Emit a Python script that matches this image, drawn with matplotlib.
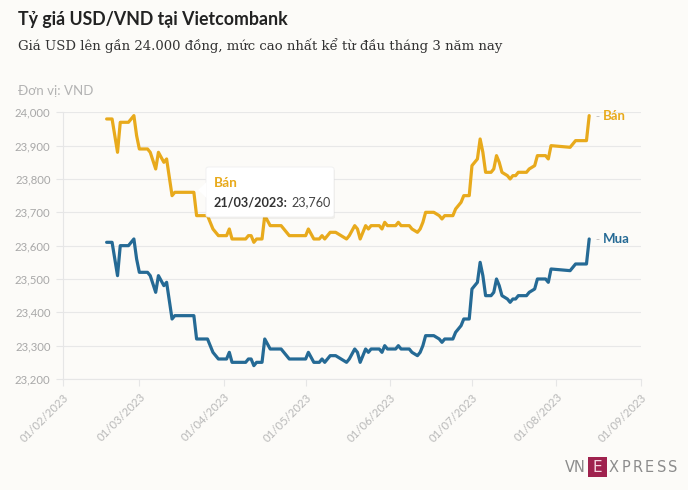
import pandas as pd
import matplotlib.pyplot as plt
from matplotlib.patches import FancyBboxPatch, Rectangle
from matplotlib.text import Annotation

# data (VND per USD)
dates = ['2023-02-17', '2023-02-19', '2023-02-21', '2023-02-22', '2023-02-25', '2023-02-27',
         '2023-02-28', '2023-03-01', '2023-03-04', '2023-03-05', '2023-03-07', '2023-03-08',
         '2023-03-10', '2023-03-11', '2023-03-13', '2023-03-14', '2023-03-21', '2023-03-22',
         '2023-03-26', '2023-03-28', '2023-03-30', '2023-04-01', '2023-04-02', '2023-04-03',
         '2023-04-04', '2023-04-09', '2023-04-10', '2023-04-11', '2023-04-12', '2023-04-13',
         '2023-04-15', '2023-04-16', '2023-04-18', '2023-04-22', '2023-04-23', '2023-04-25',
         '2023-05-01', '2023-05-02', '2023-05-04', '2023-05-06', '2023-05-07', '2023-05-08',
         '2023-05-10', '2023-05-12', '2023-05-14', '2023-05-16', '2023-05-17', '2023-05-19',
         '2023-05-20', '2023-05-21', '2023-05-23', '2023-05-24', '2023-05-25', '2023-05-28',
         '2023-05-29', '2023-05-30', '2023-05-31', '2023-06-03', '2023-06-04', '2023-06-05',
         '2023-06-08', '2023-06-09', '2023-06-11', '2023-06-12', '2023-06-13', '2023-06-14',
         '2023-06-17', '2023-06-19', '2023-06-20', '2023-06-21', '2023-06-24', '2023-06-25',
         '2023-06-27', '2023-06-28', '2023-06-30', '2023-07-01', '2023-07-02', '2023-07-03',
         '2023-07-04', '2023-07-05', '2023-07-06', '2023-07-08', '2023-07-09', '2023-07-10',
         '2023-07-11', '2023-07-12', '2023-07-14', '2023-07-15', '2023-07-16', '2023-07-17',
         '2023-07-18', '2023-07-21', '2023-07-22', '2023-07-24', '2023-07-25', '2023-07-28',
         '2023-07-29', '2023-07-30', '2023-08-06', '2023-08-08', '2023-08-12', '2023-08-13']

ban = [23980, 23980, 23880, 23970, 23970, 23990,
       23930, 23890, 23890, 23880, 23830, 23880,
       23850, 23860, 23750, 23760, 23760, 23690,
       23690, 23650, 23630, 23630, 23630, 23650,
       23620, 23620, 23630, 23630, 23610, 23620,
       23620, 23690, 23660, 23660, 23650, 23630,
       23630, 23650, 23620, 23620, 23630, 23620,
       23640, 23640, 23630, 23620, 23630, 23660,
       23650, 23620, 23660, 23650, 23660, 23660,
       23650, 23670, 23660, 23660, 23670, 23660,
       23660, 23650, 23640, 23650, 23670, 23700,
       23700, 23690, 23680, 23690, 23690, 23710,
       23730, 23750, 23750, 23840, 23850, 23860,
       23920, 23880, 23820, 23820, 23830, 23870,
       23850, 23820, 23810, 23800, 23810, 23810,
       23820, 23820, 23830, 23840, 23870, 23870,
       23860, 23900, 23895, 23915, 23915, 23990]

mua = [23610, 23610, 23510, 23600, 23600, 23620,
       23560, 23520, 23520, 23510, 23460, 23510,
       23480, 23490, 23380, 23390, 23390, 23320,
       23320, 23280, 23260, 23260, 23260, 23280,
       23250, 23250, 23260, 23260, 23240, 23250,
       23250, 23320, 23290, 23290, 23280, 23260,
       23260, 23280, 23250, 23250, 23260, 23250,
       23270, 23270, 23260, 23250, 23260, 23290,
       23280, 23250, 23290, 23280, 23290, 23290,
       23280, 23300, 23290, 23290, 23300, 23290,
       23290, 23280, 23270, 23280, 23300, 23330,
       23330, 23320, 23310, 23320, 23320, 23340,
       23360, 23380, 23380, 23470, 23480, 23490,
       23550, 23510, 23450, 23450, 23460, 23500,
       23480, 23450, 23440, 23430, 23440, 23440,
       23450, 23450, 23460, 23470, 23500, 23500,
       23490, 23530, 23525, 23545, 23545, 23620]

df = pd.DataFrame({'date': pd.to_datetime(dates), 'ban': ban, 'mua': mua})

ticks = pd.date_range('2023-02-01', '2023-09-01', freq='MS')
yticks = list(range(23200, 24001, 100))

bg = '#fcfbf8'
yellow = '#e8aa1c'
blue = '#256a95'

fig = plt.figure(figsize=(6.88, 4.9), dpi=100, facecolor=bg)
ax = fig.add_axes([63 / 688, 1 - 379 / 490, 578 / 688, 266.7 / 490])
ax.set_facecolor(bg)

ax.plot(df['date'], df['ban'], color=yellow, lw=2.3, solid_joinstyle='round',
        solid_capstyle='round', zorder=3)
ax.plot(df['date'], df['mua'], color=blue, lw=2.3, solid_joinstyle='round',
        solid_capstyle='round', zorder=3)

ax.set_xlim(ticks[0], ticks[-1])
ax.set_ylim(23200, 24000)
ax.set_xticks(ticks)
ax.set_xticklabels([t.strftime('%d/%m/%Y') for t in ticks], rotation=45, ha='right',
                   rotation_mode='anchor', fontsize=8.2, color='#b8b8b8')
ax.set_yticks(yticks)
ax.set_yticklabels([f'{v:,}' for v in yticks], fontsize=8.2, color='#a8a8a8')
ax.tick_params(axis='y', length=5, width=0.8, color='#e6e6e6', pad=4)
ax.tick_params(axis='x', length=5, width=0.8, color='#e6e6e6', pad=4)
ax.grid(axis='y', color='#e8e8e8', lw=0.8)
for s in ['top', 'right']:
    ax.spines[s].set_visible(False)
for s in ['left', 'bottom']:
    ax.spines[s].set_color('#e6e6e6')
    ax.spines[s].set_linewidth(0.8)

for lab in ax.get_xticklabels() + ax.get_yticklabels():
    lab.set_family('Lato')

# end labels
for col, name, c in [('ban', 'Bán', yellow), ('mua', 'Mua', blue)]:
    last = (df['date'].iloc[-1], df[col].iloc[-1])
    ax.annotate(name, xy=last, xytext=(10, 0), textcoords='offset points', va='center',
                fontsize=9.5, fontweight='bold', color=c, family='Lato')
    ax.annotate('-', xy=last, xytext=(4.5, 0), textcoords='offset points', va='center',
                fontsize=8, color='#bbbbbb')

# tooltip
tip_date = pd.Timestamp('2023-03-21')
tip_val = 23760
shadow = FancyBboxPatch((207 / 688, 1 - 219 / 490), 128 / 688, 50 / 490,
                        boxstyle='round,pad=0,rounding_size=0.004', transform=fig.transFigure,
                        facecolor='#000000', alpha=0.05, edgecolor='none', zorder=4)
fig.patches.append(shadow)
box = FancyBboxPatch((206 / 688, 1 - 217 / 490), 128 / 688, 50 / 490,
                     boxstyle='round,pad=0,rounding_size=0.004', transform=fig.transFigure,
                     facecolor='white', edgecolor='#efefef', lw=0.6, zorder=5)
fig.patches.append(box)
tri = plt.Polygon([(198 / 688, 1 - 190 / 490), (206.5 / 688, 1 - 182 / 490), (206.5 / 688, 1 - 198 / 490)],
                  closed=True, transform=fig.transFigure, facecolor='white', edgecolor='none', zorder=6)
fig.patches.append(tri)
fig.text(214 / 688, 1 - 183 / 490, 'Bán', fontsize=9.8, fontweight='bold', color=yellow,
         family='Lato', va='center', zorder=7)
t1 = fig.text(214 / 688, 1 - 202 / 490, tip_date.strftime('%d/%m/%Y') + ':', fontsize=9.1,
              fontweight='bold', color='#333333', family='Lato', va='center', zorder=7)
val = Annotation(f'{tip_val:,}', xy=(1, 0.5), xycoords=t1, xytext=(2.5, 0), textcoords='offset points',
                 va='center', fontsize=9.1, color='#444444', family='Lato', annotation_clip=False)
val.set_zorder(7)
fig.add_artist(val)

# titles
fig.text(18 / 688, 1 - 20 / 490, 'Tỷ giá USD/VND tại Vietcombank', fontsize=12.8, fontweight='bold',
         color='#222222', family='Lato', va='center')
fig.text(18 / 688, 1 - 46 / 490, 'Giá USD lên gần 24.000 đồng, mức cao nhất kể từ đầu tháng 3 năm nay',
         fontsize=9.5, color='#333333', family='DejaVu Serif', va='center')
fig.text(18 / 688, 1 - 91 / 490, 'Đơn vị: VND', fontsize=9.5, color='#b3b3b3', family='Lato', va='center')

# logo
logo_y = 1 - 467 / 490
fig.text(565 / 688, logo_y, 'VN', fontsize=10.5, color='#8c8c8c', va='center', family='DejaVu Sans')
fig.patches.append(Rectangle((588 / 688, 1 - 477 / 490), 19 / 688, 20 / 490, transform=fig.transFigure,
                             facecolor='#9f224e', edgecolor='none'))
fig.text(597.5 / 688, logo_y, 'E', fontsize=11, color='#f4d6e0', va='center', ha='center',
         family='DejaVu Sans')
for i, ch in enumerate('XPRESS'):
    fig.text((614 + i * 11.8) / 688, logo_y, ch, fontsize=10.5, color='#8c8c8c', va='center',
             ha='center', family='DejaVu Sans')

fig.savefig('out.png', dpi=100, facecolor=bg)
